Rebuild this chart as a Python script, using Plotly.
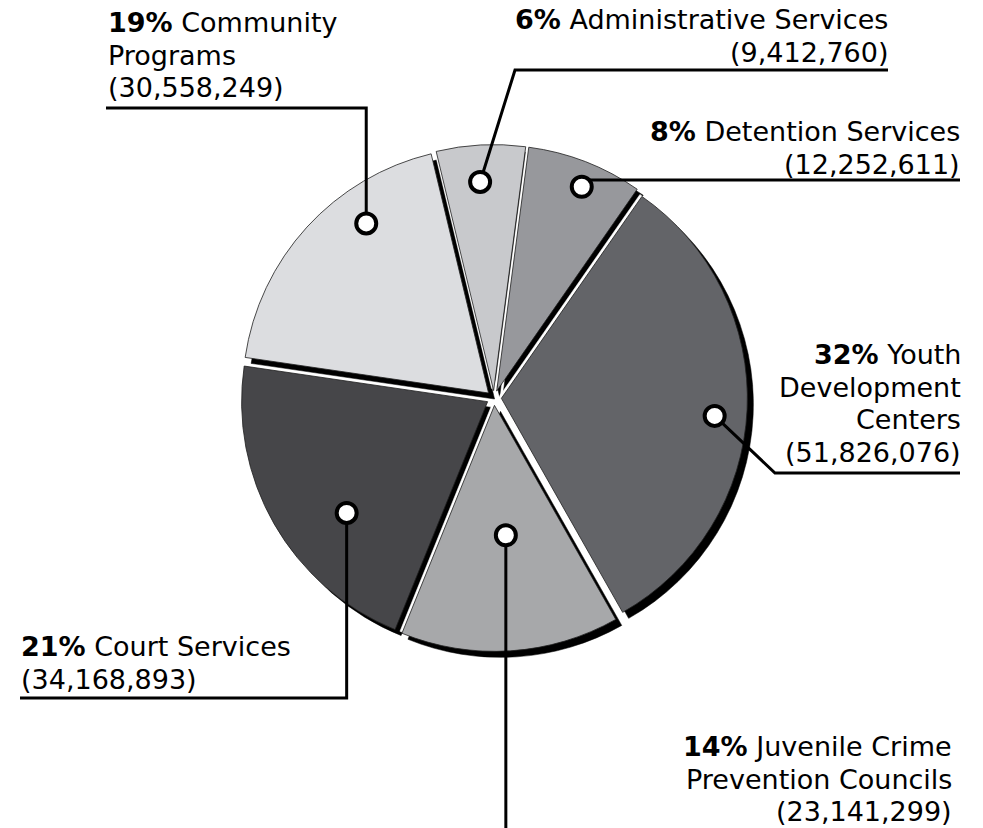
import math

import plotly.graph_objects as go

W, H = 983, 828

# data
divisions = [
    "Administrative Services",
    "Detention Services",
    "Youth Development Centers",
    "Juvenile Crime Prevention Councils",
    "Court Services",
    "Community Programs",
]
amounts = [9412760, 12252611, 51826076, 23141299, 34168893, 30558249]
label_lines = [
    ["Administrative Services"],
    ["Detention Services"],
    ["Youth", "Development", "Centers"],
    ["Juvenile Crime", "Prevention Councils"],
    ["Court Services"],
    ["Community", "Programs"],
]
slice_colors = ["#c8c9cc", "#97989c", "#636468", "#a7a8aa", "#464649", "#dcdde0"]

# pie geometry (pixels)
CX, CY, R = 494, 398, 246
PULL = 0.03
ROTATION = -13.5
SHADOW = (6, 6)
HIGHLIGHT = (-2, -2)

# callouts: marker angle (deg clockwise from top), radius fraction,
# leader elbow points, text anchor x, first baseline, side
callouts = [
    dict(ang=-3.7, rf=0.85, path=[(515, 70), (888, 70)], tx=890, base=28, side="right"),
    dict(ang=22.6, rf=0.9, path=[(None, 180), (960, 180)], tx=962, base=140, side="right"),
    dict(ang=94.7, rf=0.87, path=[(775, 473), (960, 473)], tx=963, base=363, side="right"),
    dict(ang=175.0, rf=0.53, path=[(None, 840)], tx=954, base=755, side="right"),
    dict(ang=231.7, rf=0.73, path=[(None, 698), (20, 698)], tx=19, base=655, side="left"),
    dict(ang=324.2, rf=0.85, path=[(None, 108), (106, 108)], tx=106, base=31, side="left"),
]
LINE_GAP = 32.5
FONT = "DejaVu Sans, Verdana, sans-serif"
FONT_SIZE = 27


def px_x(x):
    return x / W


def px_y(y):
    return 1 - y / H


def pie_domain(dx=0, dy=0):
    half = R * (1 + PULL)
    return dict(
        x=[px_x(CX + dx - half), px_x(CX + dx + half)],
        y=[px_y(CY + dy + half), px_y(CY + dy - half)],
    )


total = sum(amounts)
spans = [a / total * 360 for a in amounts]
starts = [ROTATION + sum(spans[:i]) for i in range(len(spans))]
mids = [s + sp / 2 for s, sp in zip(starts, spans)]

fig = go.Figure()

pie_common = dict(
    labels=divisions, values=amounts, sort=False, direction="clockwise",
    rotation=ROTATION, pull=PULL, textinfo="none", showlegend=False,
)

# drop shadow, then a white edge highlight, then the slices
fig.add_trace(go.Pie(
    **pie_common, hoverinfo="skip",
    marker=dict(colors=["#000000"] * len(amounts), line=dict(color="#000000", width=0.5)),
    domain=pie_domain(*SHADOW),
))
fig.add_trace(go.Pie(
    **pie_common, hoverinfo="skip",
    marker=dict(colors=["#ffffff"] * len(amounts), line=dict(color="#ffffff", width=0.5)),
    domain=pie_domain(*HIGHLIGHT),
))
fig.add_trace(go.Pie(
    **pie_common,
    marker=dict(colors=slice_colors, line=dict(color="#1e1e1e", width=0.8)),
    domain=pie_domain(),
))

shapes = []
annotations = []
for i, c in enumerate(callouts):
    mid = math.radians(mids[i])
    a = math.radians(c["ang"])
    mx = CX + PULL * R * math.sin(mid) + c["rf"] * R * math.sin(a)
    my = CY - PULL * R * math.cos(mid) - c["rf"] * R * math.cos(a)

    pts = [(mx, my)] + [(mx if x is None else x, y) for x, y in c["path"]]
    d = "M " + " L ".join(f"{px_x(x):.5f},{px_y(y):.5f}" for x, y in pts)
    shapes.append(dict(type="path", path=d, xref="paper", yref="paper",
                       line=dict(color="#000000", width=3), layer="above"))
    rr = 10
    shapes.append(dict(type="circle", xref="paper", yref="paper",
                       x0=px_x(mx - rr), x1=px_x(mx + rr), y0=px_y(my + rr), y1=px_y(my - rr),
                       fillcolor="#ffffff", line=dict(color="#000000", width=4), layer="above"))

    pct = round(amounts[i] / total * 100)
    lines = list(label_lines[i])
    lines[0] = f"<b>{pct}%</b> " + lines[0]
    lines.append(f"({amounts[i]:,})")
    for k, line in enumerate(lines):
        baseline = c["base"] + k * LINE_GAP
        annotations.append(dict(
            text=line, xref="paper", yref="paper",
            x=px_x(c["tx"]), y=px_y(baseline - 0.31 * FONT_SIZE),
            xanchor=c["side"], yanchor="middle", align=c["side"],
            showarrow=False, font=dict(family=FONT, size=FONT_SIZE, color="#000000"),
        ))

fig.update_layout(
    width=W, height=H,
    margin=dict(l=0, r=0, t=0, b=0),
    paper_bgcolor="#ffffff", plot_bgcolor="#ffffff",
    shapes=shapes, annotations=annotations,
)

# the page's default body margin would push the figure off the window
fig.write_html(
    "out.html",
    config={"displayModeBar": False},
    post_script="document.body.style.margin = '0';",
)
